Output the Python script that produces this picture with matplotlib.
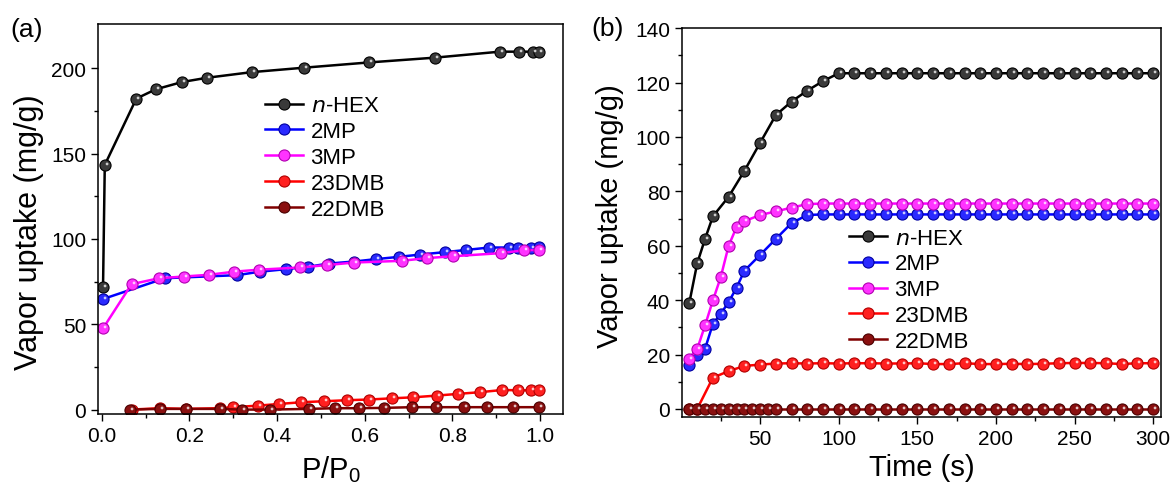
import numpy as np
import matplotlib
matplotlib.use('Agg')
import matplotlib.pyplot as plt
from matplotlib.path import Path

plt.rcParams['font.family'] = ['Liberation Sans', 'DejaVu Sans']
plt.rcParams['mathtext.fontset'] = 'custom'
plt.rcParams['mathtext.rm'] = 'Liberation Sans'

# ---- (a) isotherms ----
p_hex = [0.003, 0.007, 0.079, 0.123, 0.183, 0.24, 0.342, 0.461, 0.61, 0.76, 0.908, 0.951, 0.983, 0.998]
v_hex = [71.6, 143.4, 182.3, 187.7, 192.0, 194.5, 197.8, 200.4, 203.5, 206.3, 209.8, 209.8, 209.8, 209.8]

p_2mp = [0.003, 0.144, 0.309, 0.36, 0.42, 0.47, 0.518, 0.576, 0.626, 0.677, 0.727, 0.783, 0.832, 0.884,
         0.929, 0.95, 0.98, 0.998]
v_2mp = [64.8, 77.0, 78.8, 80.8, 82.3, 83.7, 85.6, 86.8, 88.2, 89.5, 90.9, 92.3, 93.6, 95.0,
         95.0, 95.0, 95.0, 95.2]

p_3mp = [0.003, 0.068, 0.131, 0.187, 0.244, 0.301, 0.358, 0.453, 0.513, 0.576, 0.684, 0.742, 0.802,
         0.91, 0.964, 0.998]
v_3mp = [47.6, 73.5, 77.0, 78.0, 79.0, 80.8, 82.0, 83.3, 84.7, 86.2, 87.2, 88.8, 89.9, 91.7, 93.4, 93.6]

p_23 = [0.068, 0.132, 0.193, 0.269, 0.299, 0.356, 0.405, 0.455, 0.508, 0.56, 0.61, 0.662, 0.711,
        0.764, 0.813, 0.863, 0.914, 0.95, 0.98, 0.998]
v_23 = [0.0, 0.8, 0.4, 0.8, 1.4, 2.3, 3.3, 4.3, 4.9, 5.5, 5.9, 6.6, 7.2, 8.2, 9.2, 10.2, 11.5, 11.3,
        11.3, 11.3]

p_22 = [0.065, 0.132, 0.193, 0.269, 0.32, 0.383, 0.472, 0.531, 0.586, 0.645, 0.707, 0.762, 0.827,
        0.879, 0.938, 0.998]
v_22 = [0.0, 0.4, 0.4, 0.4, 0.0, 0.0, 0.4, 0.8, 0.8, 1.0, 1.4, 1.4, 1.4, 1.4, 1.4, 1.4]

# ---- (b) kinetics ----
t_hex = [5, 10, 15, 20, 30, 40, 50, 60, 70, 80, 90, 100, 110, 120, 130, 140, 150, 160, 170, 180,
         190, 200, 210, 220, 230, 240, 250, 260, 270, 280, 290, 300]
k_hex = [39.0, 53.5, 62.5, 70.8, 78.0, 87.5, 97.8, 108.0, 113.0, 117.0, 120.5, 123.4, 123.4, 123.4,
         123.4, 123.4, 123.4, 123.4, 123.4, 123.4, 123.4, 123.4, 123.4, 123.4, 123.4, 123.4, 123.4,
         123.4, 123.4, 123.4, 123.4, 123.4]

t_mp = [5, 10, 15, 20, 25, 30, 35, 40, 50, 60, 70, 80, 90, 100, 110, 120, 130, 140, 150, 160, 170,
        180, 190, 200, 210, 220, 230, 240, 250, 260, 270, 280, 290, 300]
k_2mp = [16.0, 19.7, 22.1, 31.3, 35.0, 39.3, 44.5, 50.8, 56.6, 62.5, 68.3, 71.3, 71.5, 71.5, 71.5,
         71.5, 71.5, 71.5, 71.5, 71.5, 71.5, 71.5, 71.5, 71.5, 71.5, 71.5, 71.5, 71.5, 71.5, 71.5,
         71.5, 71.5, 71.5, 71.5]
k_3mp = [18.5, 22.0, 30.7, 39.9, 48.5, 60.0, 66.8, 69.0, 71.3, 72.6, 74.0, 75.3, 75.5, 75.5, 75.5,
         75.5, 75.5, 75.5, 75.5, 75.5, 75.5, 75.5, 75.5, 75.5, 75.5, 75.5, 75.5, 75.5, 75.5, 75.5,
         75.5, 75.5, 75.5, 75.5]

t_23 = [5, 10, 20, 30, 40, 50, 60, 70, 80, 90, 100, 110, 120, 130, 140, 150, 160, 170, 180, 190,
        200, 210, 220, 230, 240, 250, 260, 270, 280, 290, 300]
k_23 = [0.0, 0.0, 11.5, 13.9, 15.8, 16.3, 16.7, 16.8, 16.7, 16.8, 16.7, 16.8, 16.8, 16.7, 16.7,
        16.8, 16.5, 16.5, 16.8, 16.5, 16.5, 16.6, 16.5, 16.6, 16.8, 16.9, 16.9, 16.8, 16.5, 16.8,
        16.8]

t_22 = [5, 10, 15, 20, 25, 30, 35, 40, 45, 50, 55, 60, 70, 80, 90, 100, 110, 120, 130, 140, 150,
        160, 170, 180, 190, 200, 210, 220, 230, 240, 250, 260, 270, 280, 290, 300]
k_22 = [0.0, 0.0, 0.0, 0.0, 0.0, 0.0, 0.0, 0.0, 0.0, 0.0, 0.0, 0.0, 0.0, 0.0, 0.0, 0.0, 0.0, 0.0,
        0.0, 0.0, 0.0, 0.0, 0.0, 0.0, 0.0, 0.0, 0.0, 0.0, 0.0, 0.0, 0.0, 0.0, 0.0, 0.0, 0.0, 0.0]

names = [r'$\it{n}$-HEX', '2MP', '3MP', '23DMB', '22DMB']
colors = ['#000000', '#0000ff', '#ff00ff', '#ff0000', '#800000']
faces = ['#3a3a3a', '#2a2aff', '#ff33ff', '#ff2020', '#8a1010']
edges = ['#000000', '#0000a0', '#b000b0', '#b00000', '#4a0000']

# small off-centre glint so the markers look like little balls
glint = Path.circle(center=(0.28, 0.28), radius=0.25)
MS = 8.0


def series(ax, x, y, i):
    ax.plot(x, y, '-', color=colors[i], lw=1.8, marker='o', ms=MS,
            mfc=faces[i], mec=edges[i], mew=0.8, label=names[i])
    ax.plot(x, y, ls='none', marker=glint, ms=MS * 0.53, mfc='white', mec='none', alpha=0.75)


def style(ax):
    ax.tick_params(which='both', direction='out', top=False, right=False, labelsize=15)
    ax.tick_params(which='major', length=5, width=1)
    ax.tick_params(which='minor', length=3, width=1)
    for s in ax.spines.values():
        s.set_linewidth(1.1)


fig = plt.figure(figsize=(11.74, 4.89), dpi=100)
ax1 = fig.add_axes([0.0835, 0.1513, 0.396, 0.7975])
ax2 = fig.add_axes([0.581, 0.145, 0.408, 0.7955])

for i, (x, y) in enumerate([(p_hex, v_hex), (p_2mp, v_2mp), (p_3mp, v_3mp), (p_23, v_23), (p_22, v_22)]):
    series(ax1, x, y, i)
for i, (x, y) in enumerate([(t_hex, k_hex), (t_mp, k_2mp), (t_mp, k_3mp), (t_23, k_23), (t_22, k_22)]):
    series(ax2, x, y, i)

ax1.set_xlim(-0.0084, 1.052)
ax1.set_ylim(-2.6, 226)
ax1.set_xticks(np.arange(0, 1.01, 0.2))
ax1.set_xticks(np.arange(0, 1.01, 0.1), minor=True)
ax1.set_yticks(np.arange(0, 201, 50))
ax1.set_yticks(np.arange(0, 201, 25), minor=True)
ax1.set_xlabel(r'P/P$_\mathregular{0}$', fontsize=21, labelpad=6)
ax1.set_ylabel('Vapor uptake (mg/g)', fontsize=22)
ax1.yaxis.set_label_coords(-0.117, 0.47)
style(ax1)

ax2.set_xlim(0.4, 305)
ax2.set_ylim(-3, 140)
ax2.set_xticks(np.arange(50, 301, 50))
ax2.set_xticks(np.arange(25, 301, 25), minor=True)
ax2.set_yticks(np.arange(0, 141, 20))
ax2.set_yticks(np.arange(0, 141, 10), minor=True)
ax2.set_xlabel('Time (s)', fontsize=21, labelpad=4)
ax2.set_ylabel('Vapor uptake (mg/g)', fontsize=21)
ax2.yaxis.set_label_coords(-0.122, 0.52)
style(ax2)

leg_kw = dict(frameon=False, fontsize=16, handlelength=1.7, handletextpad=0.35,
              labelspacing=0.22, borderaxespad=0, numpoints=1)
ax1.legend(loc='upper left', bbox_to_anchor=(0.34, 0.84), **leg_kw)
ax2.legend(loc='upper left', bbox_to_anchor=(0.33, 0.51), **leg_kw)

fig.text(0.009, 0.925, '(a)', fontsize=19)
fig.text(0.504, 0.927, '(b)', fontsize=19)

fig.savefig('out.png', dpi=100)
